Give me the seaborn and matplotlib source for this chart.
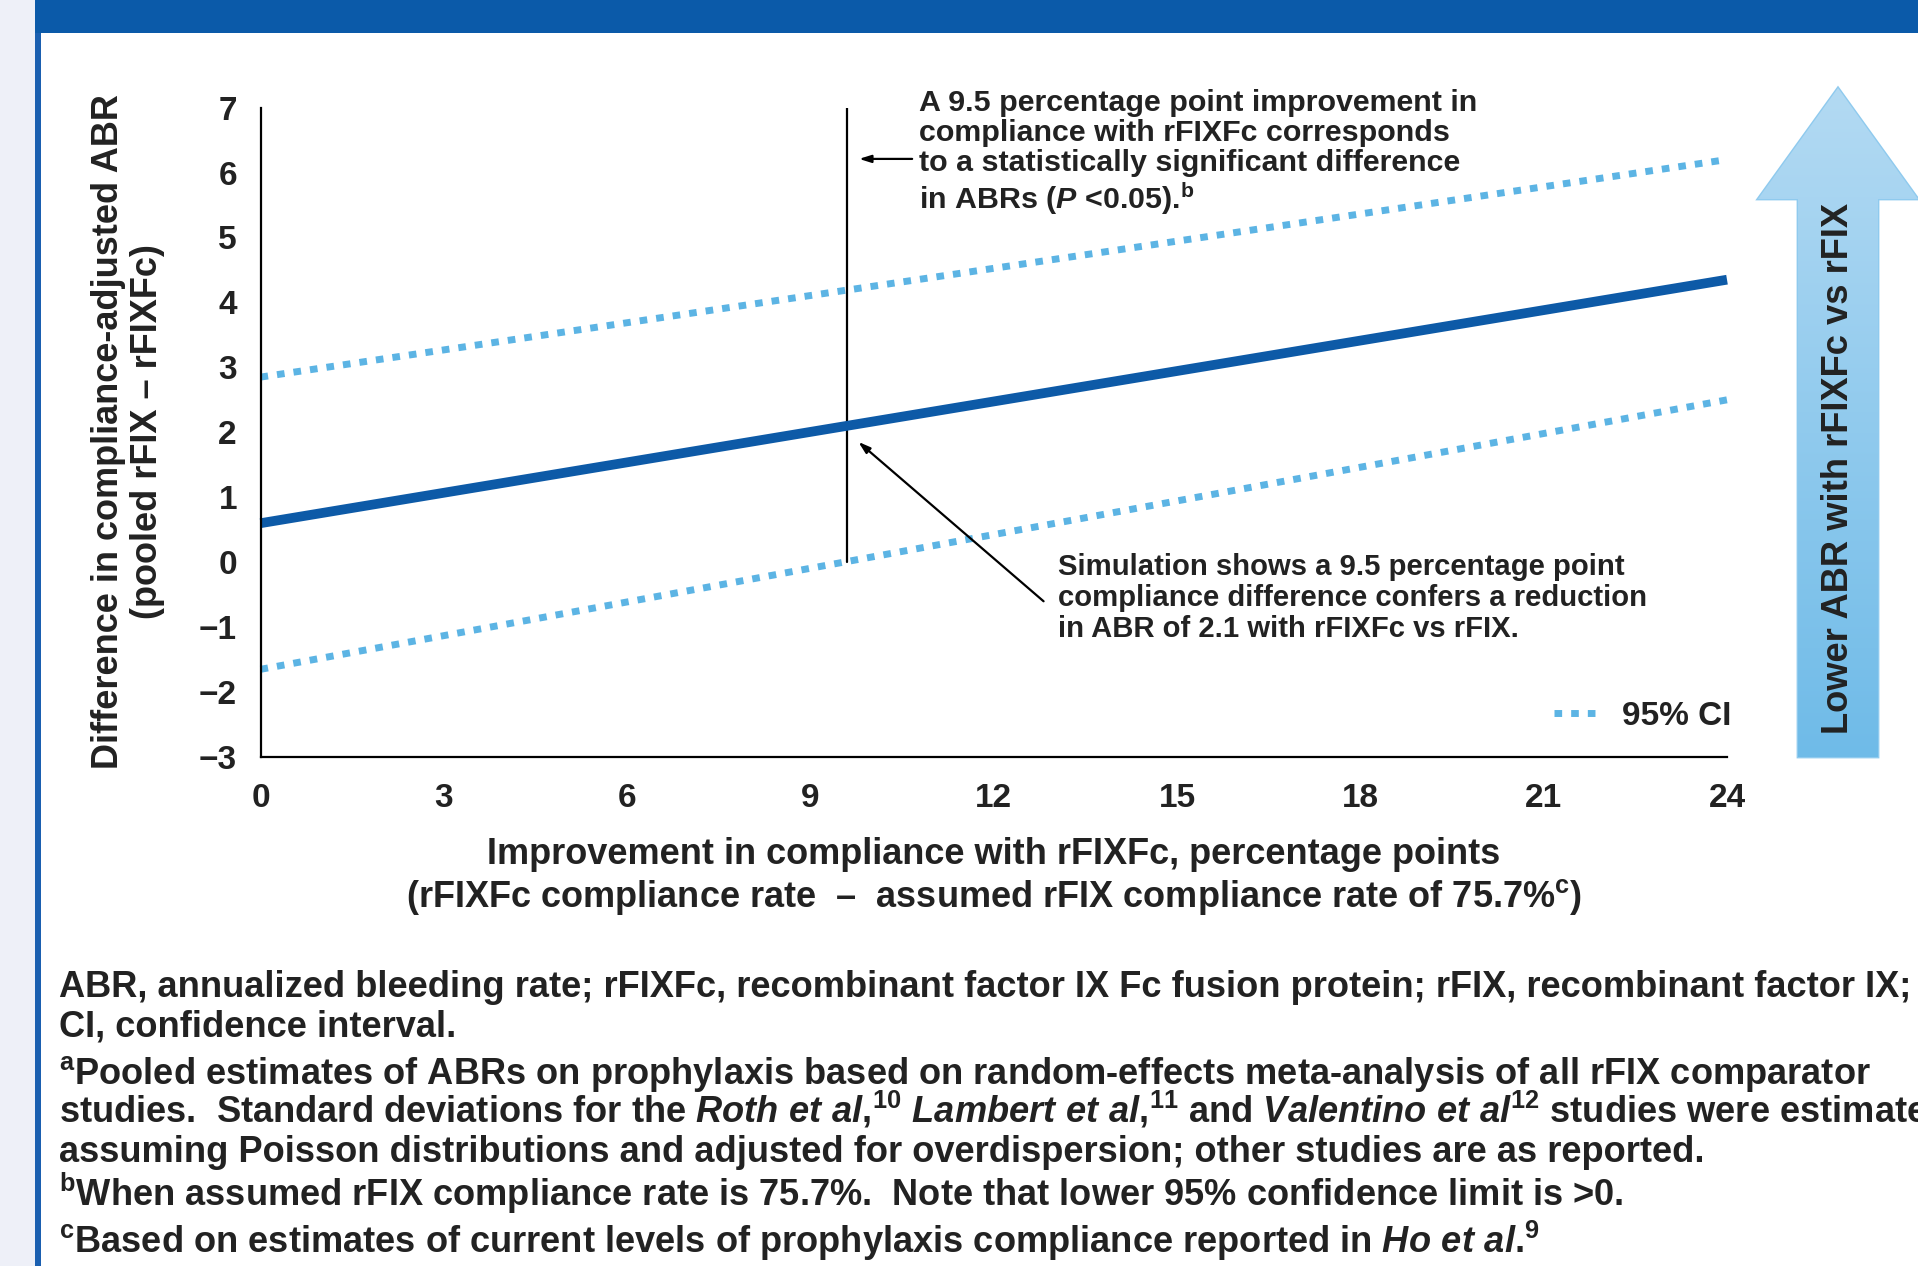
import numpy as np
import pandas as pd
import matplotlib
matplotlib.use('Agg')
import matplotlib.pyplot as plt
from matplotlib.patches import Rectangle, Polygon
import seaborn as sns

# valores (linhas retas entre x=0 e x=24)
compliance = [0, 24]
abr_diff = [0.6, 4.35]
ci_upper = [2.85, 6.2]
ci_lower = [-1.65, 2.5]
marker_x = 9.6
x_ticks = [0, 3, 6, 9, 12, 15, 18, 21, 24]
y_ticks = [-3, -2, -1, 0, 1, 2, 3, 4, 5, 6, 7]

df = pd.DataFrame({'x': compliance, 'diff': abr_diff, 'upper': ci_upper, 'lower': ci_lower})

sns.set_style("white")
plt.rcParams['font.family'] = ['Liberation Sans', 'DejaVu Sans']
plt.rcParams['font.weight'] = 'bold'
plt.rcParams['text.color'] = '#222222'
plt.rcParams['mathtext.fontset'] = 'custom'
plt.rcParams['mathtext.rm'] = 'Liberation Sans:bold'
plt.rcParams['mathtext.it'] = 'Liberation Sans:italic:bold'
plt.rcParams['mathtext.bf'] = 'Liberation Sans:bold'

W, H = 1918, 1266
fig = plt.figure(figsize=(W / 100, H / 100), dpi=100)
fig.patch.set_facecolor('white')

# fundo / moldura em coordenadas de pixel
bg = fig.add_axes([0, 0, 1, 1], zorder=0)
bg.set_xlim(0, W)
bg.set_ylim(H, 0)
bg.axis('off')
bg.add_patch(Rectangle((0, 0), 35, H, color='#eef0f8', lw=0))
bg.add_patch(Rectangle((35, 0), W - 35, 33, color='#0b5aa9', lw=0))
bg.add_patch(Rectangle((35, 33), 6, H - 33, color='#1a5fb0', lw=0))

# seta grande com gradiente
arrow_pts = [(1838, 88), (1918, 199), (1878, 199), (1878, 757),
             (1798, 757), (1798, 199), (1758, 199)]
arrow = Polygon(arrow_pts, closed=True, facecolor='none', edgecolor='#8fcaee', lw=2)
bg.add_patch(arrow)
grad = np.linspace(0, 1, 256).reshape(-1, 1)
cmap = matplotlib.colors.LinearSegmentedColormap.from_list('arr', ['#b3daf3', '#6fbbe8'])
img = bg.imshow(grad, cmap=cmap, extent=(1758, 1918, 757, 88), aspect='auto', zorder=1)
img.set_clip_path(arrow)
bg.set_xlim(0, W)
bg.set_ylim(H, 0)
bg.text(1838, 468, 'Lower ABR with rFIXFc vs rFIX', rotation=90, ha='center', va='center',
        fontsize=26.2, zorder=3)

# grafico principal
ax = fig.add_axes([260.5 / W, 509 / H, 1466.5 / W, 649.4 / H], zorder=2)
ax.patch.set_alpha(0)

sns.lineplot(data=df, x='x', y='upper', ax=ax, color='#5cb4e4', lw=5,
             linestyle=(0, (1.1, 1.3)), dash_capstyle='butt', label='95% CI', clip_on=False)
sns.lineplot(data=df, x='x', y='lower', ax=ax, color='#5cb4e4', lw=5,
             linestyle=(0, (1.1, 1.3)), dash_capstyle='butt', clip_on=False)
sns.lineplot(data=df, x='x', y='diff', ax=ax, color='#0d5aa7', lw=7, clip_on=False,
             solid_capstyle='butt')

ax.plot([marker_x, marker_x], [0, 7], color='black', lw=1.6, zorder=1)

ax.set_xlim(0, 24)
ax.set_ylim(-3, 7)
ax.set_xticks(x_ticks)
ax.set_yticks(y_ticks)
ax.set_xlabel('')
ax.set_ylabel('')
ax.tick_params(axis='both', direction='out', length=12, width=1.6, color='black',
               labelsize=24, pad=5, labelcolor='#222222')
ax.tick_params(axis='x', pad=7)
sns.despine(ax=ax)
for s in ['left', 'bottom']:
    ax.spines[s].set_linewidth(1.6)
    ax.spines[s].set_color('black')

ax.annotate('', xy=(9.75, 6.21), xytext=(10.71, 6.21),
            arrowprops=dict(arrowstyle='-|>,head_length=0.7,head_width=0.22', color='black', lw=1.6))
ax.annotate('', xy=(9.75, 1.88), xytext=(12.85, -0.63),
            arrowprops=dict(arrowstyle='-|>,head_length=0.7,head_width=0.22', color='black', lw=1.6))

ax.text(10.78, 7.29, 'A 9.5 percentage point improvement in\ncompliance with rFIXFc corresponds\n'
        'to a statistically significant difference\nin ABRs ($P$ <0.05).$^{\\rm b}$',
        ha='left', va='top', fontsize=21.9, linespacing=1.1)
ax.text(13.05, 0.14, 'Simulation shows a 9.5 percentage point\ncompliance difference confers a reduction\n'
        'in ABR of 2.1 with rFIXFc vs rFIX.',
        ha='left', va='top', fontsize=21.1, linespacing=1.14)

ax.legend(loc='center right', bbox_to_anchor=(1.003, 0.063), frameon=False, fontsize=24,
          handlelength=1.35, handletextpad=0.7, borderpad=0, borderaxespad=0)

fig.text(128 / W, 1 - 432 / H, 'Difference in compliance-adjusted ABR\n(pooled rFIX \u2013 rFIXFc)',
         rotation=90, ha='center', va='center', fontsize=26, linespacing=1.15, multialignment='center')
fig.text(994 / W, 1 - 877 / H, 'Improvement in compliance with rFIXFc, percentage points\n'
         '(rFIXFc compliance rate  \u2013  assumed rFIX compliance rate of 75.7%$^{\\rm c}$)',
         ha='center', va='center', fontsize=26, linespacing=1.15, multialignment='center')

notes = [
    (997, 'ABR, annualized bleeding rate; rFIXFc, recombinant factor IX Fc fusion protein; rFIX, recombinant factor IX;'),
    (1036, 'CI, confidence interval.'),
    (1084, '$^{\\rm a}$Pooled estimates of ABRs on prophylaxis based on random-effects meta-analysis of all rFIX comparator'),
    (1123, 'studies.  Standard deviations for the $\\it{Roth\\ et\\ al}$,$^{\\rm 10}$ $\\it{Lambert\\ et\\ al}$,$^{\\rm 11}$'
           ' and $\\it{Valentino\\ et\\ al}$$^{\\rm 12}$ studies were estimated'),
    (1162, 'assuming Poisson distributions and adjusted for overdispersion; other studies are as reported.'),
    (1206, '$^{\\rm b}$When assumed rFIX compliance rate is 75.7%.  Note that lower 95% confidence limit is >0.'),
    (1253, '$^{\\rm c}$Based on estimates of current levels of prophylaxis compliance reported in $\\it{Ho\\ et\\ al}$.$^{\\rm 9}$'),
]
for yb, txt in notes:
    fig.text(59 / W, 1 - yb / H, txt, ha='left', va='baseline', fontsize=26.1)

fig.savefig('out.png', dpi=100)
